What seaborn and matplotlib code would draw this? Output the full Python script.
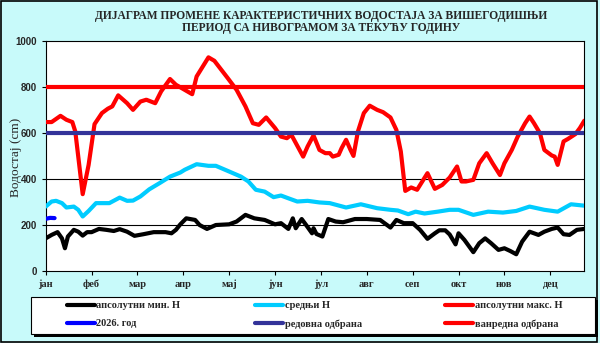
import numpy as np
import seaborn as sns
import matplotlib.pyplot as plt
from matplotlib.patches import Rectangle
from matplotlib.lines import Line2D

# --- data (day of year 0..364) ---
max_days = [0, 4, 10, 14, 18, 20, 25, 29, 33, 38, 42, 45, 49, 55, 59, 64, 68, 74, 78, 84,
            88, 99, 102, 110, 114, 123, 129, 135, 140, 144, 149, 155, 159, 163, 166, 174,
            177, 181, 185, 189, 192, 194, 198, 200, 203, 206, 208, 211, 215, 219, 224, 228,
            233, 237, 240, 243, 247, 251, 258, 263, 268, 273, 278, 281, 284, 289, 293, 298,
            302, 307, 310, 315, 319, 324, 327, 330, 334, 337, 342, 344, 346, 350, 353, 358,
            361, 364]
max_vals = [648, 648, 675, 658, 648, 607, 335, 462, 639, 687, 706, 716, 764, 730, 701, 737,
            745, 730, 781, 835, 810, 769, 846, 929, 914, 839, 788, 716, 643, 636, 668, 622,
            585, 578, 593, 498, 542, 590, 527, 513, 513, 498, 506, 535, 571, 527, 501, 607,
            687, 719, 701, 691, 668, 614, 520, 349, 364, 354, 426, 358, 375, 407, 455, 390,
            390, 397, 469, 513, 469, 418, 469, 527, 585, 643, 672, 643, 600, 527, 503, 498,
            462, 564, 575, 596, 622, 654]

mean_days = [0, 4, 7, 11, 14, 19, 22, 25, 29, 34, 43, 50, 55, 59, 64, 70, 77, 84, 91, 94,
             102, 110, 115, 123, 132, 137, 142, 148, 154, 159, 164, 170, 177, 185, 192, 203,
             213, 224, 233, 238, 245, 250, 256, 265, 273, 279, 289, 299, 309, 318, 327, 337,
             346, 355, 364]
mean_vals = [281, 303, 306, 296, 277, 281, 267, 238, 262, 296, 296, 320, 306, 307, 325, 356,
             383, 411, 429, 441, 465, 458, 458, 436, 411, 390, 354, 346, 322, 329, 317, 303,
             306, 299, 296, 277, 291, 274, 267, 264, 248, 259, 251, 259, 267, 267, 245, 259,
             255, 262, 281, 267, 259, 291, 285]

min_days = [0, 4, 8, 11, 13, 15, 19, 22, 25, 28, 31, 36, 41, 46, 50, 55, 60, 66, 73, 81,
            85, 88, 91, 95, 101, 104, 109, 115, 124, 129, 135, 141, 148, 155, 159, 164, 167,
            169, 173, 176, 180, 181, 183, 187, 191, 196, 201, 209, 217, 226, 233, 237, 242,
            248, 253, 258, 263, 266, 270, 273, 277, 279, 283, 289, 293, 297, 301, 306, 310,
            314, 318, 322, 327, 333, 337, 342, 346, 350, 354, 359, 364]
min_vals = [143, 158, 170, 143, 100, 151, 180, 172, 155, 170, 170, 184, 180, 175, 183, 172,
            154, 161, 170, 170, 165, 180, 204, 230, 223, 201, 184, 201, 204, 216, 245, 230,
            223, 204, 209, 184, 230, 187, 227, 201, 165, 187, 162, 151, 227, 216, 213, 227,
            227, 223, 190, 223, 209, 209, 180, 141, 165, 178, 178, 160, 117, 165, 136, 83,
            122, 143, 122, 93, 100, 88, 74, 129, 172, 158, 172, 184, 190, 161, 158, 180, 184]

cur_days = [0, 3, 6]
cur_vals = [228, 232, 231]

redovna = 600
vanredna = 800

months = ['јан', 'феб', 'мар', 'апр', 'мај', 'јун', 'јул', 'авг', 'сеп', 'окт', 'нов', 'дец']
month_ticks = [31 * i for i in range(12)]

labels = ['апсолутни мин. Н', '2026. год', 'средњи Н', 'редовна одбрана',
          'апсолутни макс. Н', 'ванредна одбрана']
colors = ['black', '#0000ff', '#00ccff', '#333399', '#ff0000', '#ff0000']

title = ('ДИЈАГРАМ ПРОМЕНЕ КАРАКТЕРИСТИЧНИХ ВОДОСТАЈА ЗА ВИШЕГОДИШЊИ\n'
         'ПЕРИОД СА НИВОГРАМОМ ЗА ТЕКУЋУ ГОДИНУ')

sns.set_style("white")
plt.rcParams['font.family'] = ['Liberation Serif', 'DejaVu Serif']

fig = plt.figure(figsize=(6, 3.43), dpi=100)
fig.patch.set_facecolor('#c8fafa')
ax = fig.add_axes([45.7 / 600, 1 - 271.3 / 343, 538.6 / 600, 230.3 / 343])
ax.set_facecolor('white')

for y in [200, 400, 600, 800]:
    ax.axhline(y, color='black', lw=0.8, zorder=1)

lw = 3
sns.lineplot(x=min_days, y=min_vals, ax=ax, color=colors[0], lw=lw, zorder=3)
sns.lineplot(x=mean_days, y=mean_vals, ax=ax, color=colors[2], lw=lw, zorder=3)
sns.lineplot(x=max_days, y=max_vals, ax=ax, color=colors[4], lw=lw, zorder=3)
sns.lineplot(x=cur_days, y=cur_vals, ax=ax, color=colors[1], lw=lw, zorder=4)
ax.axhline(redovna, color=colors[3], lw=lw, zorder=4)
ax.axhline(vanredna, color=colors[5], lw=lw, zorder=4)

ax.set_xlim(0, 364)
ax.set_ylim(0, 1000)
ax.set_yticks(range(0, 1001, 200))
ax.set_xticks(month_ticks)
ax.set_xticklabels(months, fontsize=7.5, fontweight='bold')
for t in ax.get_yticklabels():
    t.set_family('Liberation Sans')
    t.set_fontweight('bold')
    t.set_fontsize(7)
ax.tick_params(axis='both', direction='out', length=3, width=0.8, color='black', pad=3)
ax.tick_params(axis='both', which='both', bottom=True, left=True)
for s in ax.spines.values():
    s.set_color('black')
    s.set_linewidth(0.8)
ax.set_xlabel('')
ax.set_ylabel('')

fig.text(16 / 600, 1 - 157 / 343, 'Водостај (cm)', rotation=90, ha='center', va='center',
         fontsize=9.5)
fig.text(321 / 600, 1 - 22 / 343, title, ha='center', va='center', fontsize=8.3,
         fontweight='bold', linespacing=1.05)

# legend box with shadow
fig.patches.append(Rectangle((33.7 / 600, 1 - 337 / 343), 564.3 / 600, 37.3 / 343,
                             transform=fig.transFigure, facecolor='black', edgecolor='none'))
fig.patches.append(Rectangle((30.7 / 600, 1 - 334 / 343), 564.3 / 600, 37.3 / 343,
                             transform=fig.transFigure, facecolor='white', edgecolor='black',
                             lw=0.8))
# figure border
fig.patches.append(Rectangle((0.002, 0.004), 0.993, 0.992, transform=fig.transFigure,
                             facecolor='none', edgecolor='black', lw=1.2))

col_x = [66.7, 255, 445]
for i, x0 in enumerate(col_x):
    hs = [Line2D([], [], color=colors[2 * i + k], lw=lw) for k in range(2)]
    fig.legend(hs, labels[2 * i:2 * i + 2], loc='upper left',
               bbox_to_anchor=(x0 / 600, 1 - 301 / 343), bbox_transform=fig.transFigure,
               frameon=False, borderpad=0, borderaxespad=0, handlelength=2.7,
               handletextpad=0.15, labelspacing=0.85,
               prop={'family': 'Liberation Serif', 'size': 7.5, 'weight': 'bold'})

fig.savefig('out.png', dpi=100, facecolor=fig.get_facecolor())
